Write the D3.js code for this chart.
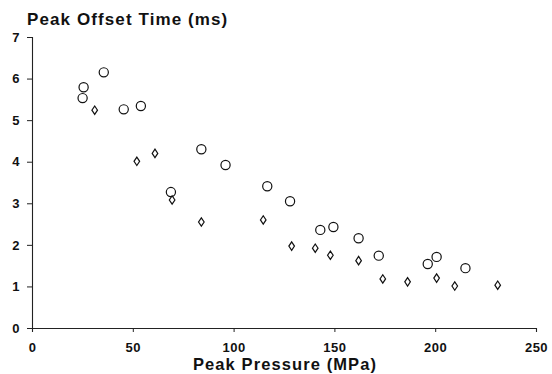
<!DOCTYPE html>
<html>
<head>
<meta charset="UTF-8">
<script src="https://d3js.org/d3.v7.min.js"></script>
<style>
  body { margin: 0; background: #fff; }
  svg { display: block; font-family: "Liberation Sans", Arial, sans-serif; }
  .tick text { font-weight: bold; font-size: 13px; fill: #111; letter-spacing: 0.5px; }
</style>
</head>
<body>
<svg width="552" height="374"></svg>
<script>
// open circles
const circlePressure = [25.6, 25.1, 35.6, 45.5, 54, 84, 68.9, 96, 116.7, 128, 143, 149.5, 162, 172, 196.3, 200.7, 215];
const circleTime     = [5.79, 5.53, 6.15, 5.26, 5.34, 4.3, 3.27, 3.92, 3.41, 3.05, 2.36, 2.43, 2.16, 1.74, 1.54, 1.71, 1.44];
// open diamonds
const diamondPressure = [31.1, 52, 61, 69.5, 84, 114.7, 128.8, 140.5, 148, 162, 174, 186.3, 200.7, 209.7, 231];
const diamondTime     = [5.24, 4.01, 4.2, 3.08, 2.55, 2.6, 1.97, 1.92, 1.75, 1.62, 1.18, 1.11, 1.2, 1.01, 1.03];

const xTicks = [0, 50, 100, 150, 200, 250];
const yTicks = [0, 1, 2, 3, 4, 5, 6, 7];

const svg = d3.select("svg");

const x = d3.scaleLinear().domain([0, 250]).range([32, 536]);
const y = d3.scaleLinear().domain([0, 7]).range([328, 37]);

// axes
const xAxis = svg.append("g")
    .attr("transform", `translate(0,${y(0)})`)
    .call(d3.axisBottom(x).tickValues(xTicks).tickFormat(d3.format("d"))
        .tickSize(4).tickSizeOuter(4).tickPadding(11));
const yAxis = svg.append("g")
    .attr("transform", `translate(${x(0)},0)`)
    .call(d3.axisLeft(y).tickValues(yTicks).tickFormat(d3.format("d"))
        .tickSize(5).tickSizeOuter(5).tickPadding(7));

[xAxis, yAxis].forEach(g => {
    g.select(".domain").attr("stroke", "#222").attr("stroke-width", 1.1);
    g.selectAll(".tick line").attr("stroke", "#222");
});

// circles
const circles = circlePressure.map((p, i) => ({ p: p, t: circleTime[i] }));
svg.append("g").selectAll("circle")
    .data(circles)
    .join("circle")
    .attr("cx", d => x(d.p))
    .attr("cy", d => y(d.t))
    .attr("r", 4.6)
    .attr("fill", "none")
    .attr("stroke", "#111")
    .attr("stroke-width", 1.2);

// diamonds (taller than wide)
const diamonds = diamondPressure.map((p, i) => ({ p: p, t: diamondTime[i] }));
const dw = 2.8, dh = 4.2;
svg.append("g").selectAll("path")
    .data(diamonds)
    .join("path")
    .attr("transform", d => `translate(${x(d.p)},${y(d.t)})`)
    .attr("d", `M0,${-dh}L${dw},0L0,${dh}L${-dw},0Z`)
    .attr("fill", "none")
    .attr("stroke", "#111")
    .attr("stroke-width", 1.2);

// titles
svg.append("text")
    .attr("x", 27)
    .attr("y", 25)
    .style("font-size", "17px")
    .style("font-weight", "bold")
    .style("letter-spacing", "1.1px")
    .attr("fill", "#111")
    .text("Peak Offset Time (ms)");

svg.append("text")
    .attr("x", 285)
    .attr("y", 370)
    .attr("text-anchor", "middle")
    .style("font-size", "16.5px")
    .style("font-weight", "bold")
    .style("letter-spacing", "1.1px")
    .attr("fill", "#111")
    .text("Peak Pressure (MPa)");
</script>
</body>
</html>
